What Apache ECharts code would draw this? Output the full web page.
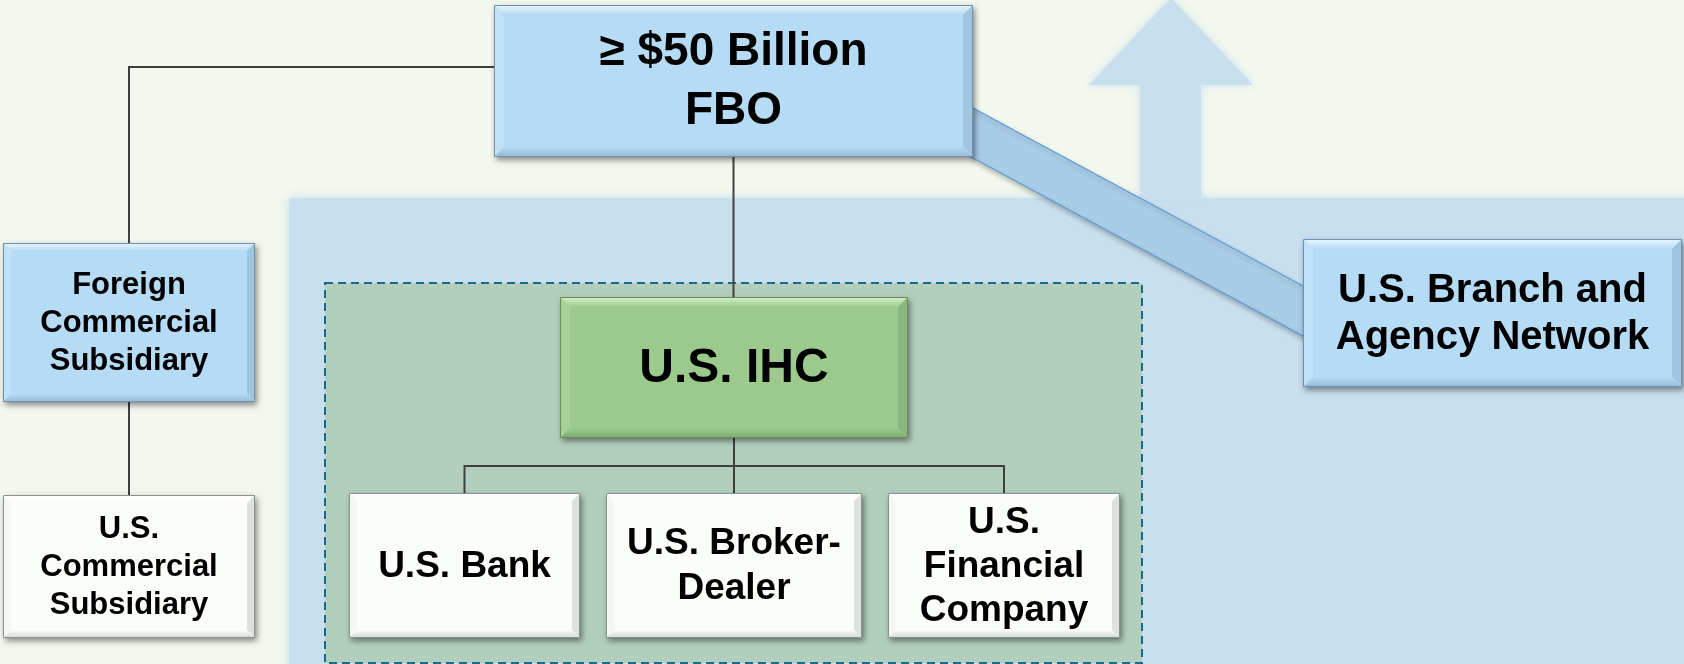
<!DOCTYPE html>
<html><head><meta charset="utf-8">
<script src="https://cdn.jsdelivr.net/npm/echarts@6/dist/echarts.min.js"></script>
<style>html,body{margin:0;padding:0;background:#f3f8ee;overflow:hidden}#c{width:1684px;height:664px}</style>
</head><body><div id="c"></div>
<script>
// ---- content ----
const nodeLabels = [
  '≥ $50 Billion\nFBO',
  'Foreign\nCommercial\nSubsidiary',
  'U.S.\nCommercial\nSubsidiary',
  'U.S. IHC',
  'U.S. Bank',
  'U.S. Broker-\nDealer',
  'U.S.\nFinancial\nCompany',
  'U.S. Branch and\nAgency Network'
];
const nodeKinds = ['blue', 'blue', 'white', 'green', 'white', 'white', 'white', 'blue'];
const links = [[0, 1], [1, 2], [0, 3], [3, 4], [3, 5], [3, 6]];
const bandLinks = [[0, 7]];

// ---- layout (canvas pixels) ----
const layout = {
  boxes: [
    [494, 5, 973, 157],
    [3, 243, 255, 402],
    [3, 495, 255, 638],
    [560, 297, 908, 438],
    [349, 493, 580, 638],
    [606, 493, 862, 638],
    [888, 493, 1120, 638],
    [1303, 239, 1682, 387]
  ],
  fonts: [[46, 59], [31, 38], [31, 38], [48, 56], [37, 45], [37, 45], [37, 44], [40, 47]],
  routes: ['side', 'straight', 'straight', 'bus', 'bus', 'bus'],
  sideY: 67, busY: 466,
  panel: [289, 198, 1700, 680],
  arrow: { shaft: [1140, 1201], headBase: 85, head: [1089, 1253], apex: -2, bottom: 200 },
  dashed: [325, 283, 1142, 663],
  band: 50
};
const palette = {
  blue:  { face: '#b6dbf4', top: '#e8f7fe', left: '#c0e1f6', right: '#9fc5e0', bottom: '#93bad6', border: '#6f93b2' },
  green: { face: '#9cca8c', top: '#d4f2c4', left: '#a6d297', right: '#8ab77b', bottom: '#80ab72', border: '#6a8c5e' },
  white: { face: '#fbfef8', top: '#ffffff', left: '#f5f8f2', right: '#dde2da', bottom: '#d3d8d0', border: '#86958f' }
};

const chart = echarts.init(document.getElementById('c'), null, { renderer: 'canvas' });

function C(api, x, y) { return api.coord([x, y]); }

function renderBackground(params, api) {
  const p = layout.panel, a = layout.arrow;
  const col = '#c8dfee';
  const p0 = C(api, p[0], p[1]), p1 = C(api, p[2], p[3]);
  const pts = [
    [a.shaft[0], a.bottom], [a.shaft[0], a.headBase], [a.head[0], a.headBase],
    [(a.head[0] + a.head[1]) / 2, a.apex], [a.head[1], a.headBase], [a.shaft[1], a.headBase], [a.shaft[1], a.bottom]
  ].map(q => C(api, q[0], q[1]));
  const d = layout.dashed;
  const d0 = C(api, d[0], d[1]), d1 = C(api, d[2], d[3]);
  return {
    type: 'group',
    children: [
      { type: 'rect', shape: { x: p0[0], y: p0[1], width: p1[0] - p0[0], height: p1[1] - p0[1] },
        style: { fill: col, shadowBlur: 10, shadowColor: col } },
      { type: 'polygon', shape: { points: pts }, style: { fill: col, shadowBlur: 8, shadowColor: col } },
      { type: 'rect', shape: { x: d0[0], y: d0[1], width: d1[0] - d0[0], height: d1[1] - d0[1] },
        style: { fill: '#b2cfbd', stroke: '#1c6a8a', lineWidth: 2, lineDash: [8, 5] } }
    ]
  };
}

function renderBand(params, api) {
  const [s, t] = bandLinks[params.dataIndex];
  const a = layout.boxes[s], b = layout.boxes[t];
  const w = layout.band;
  const yA = a[3] - w, yB = (b[1] + b[3]) / 2 - 26;
  const pts = [[a[2] - 2, yA], [b[0] + 2, yB], [b[0] + 2, yB + w], [a[2] - 2, a[3]]].map(q => C(api, q[0], q[1]));
  return { type: 'polygon', shape: { points: pts },
    style: { fill: '#a9cde6', stroke: '#5b9bd5', lineWidth: 1.2,
      shadowBlur: 5, shadowOffsetX: 1, shadowOffsetY: 3, shadowColor: 'rgba(0,0,0,0.25)' } };
}

function renderLink(params, api) {
  const i = params.dataIndex;
  const [s, t] = links[i];
  const a = layout.boxes[s], b = layout.boxes[t];
  const r = layout.routes[i];
  let pts;
  const acx = (a[0] + a[2]) / 2, bcx = (b[0] + b[2]) / 2;
  if (r === 'side') pts = [[a[0], layout.sideY], [bcx, layout.sideY], [bcx, b[1]]];
  else if (r === 'straight') pts = [[acx, a[3]], [acx, b[1]]];
  else pts = [[acx, a[3]], [acx, layout.busY], [bcx, layout.busY], [bcx, b[1]]];
  return { type: 'polyline', shape: { points: pts.map(q => C(api, q[0], q[1])) },
    style: { stroke: '#404040', lineWidth: 2, fill: null } };
}

function renderBox(params, api) {
  const i = params.dataIndex;
  const bx = layout.boxes[i];
  const pal = palette[nodeKinds[i]];
  const [fs, lh] = layout.fonts[i];
  const p0 = C(api, bx[0], bx[1]), p1 = C(api, bx[2], bx[3]);
  const x0 = p0[0], y0 = p0[1], x1 = p1[0], y1 = p1[1];
  const b = (x1 - x0) > 300 ? 10 : 8;
  const grad = (c1, c2) => new echarts.graphic.LinearGradient(0, 0, 0, 1, [{ offset: 0, color: c1 }, { offset: 1, color: c2 }]);
  return {
    type: 'group',
    children: [
      { type: 'rect', shape: { x: x0, y: y0, width: x1 - x0, height: y1 - y0 },
        style: { fill: pal.face, shadowBlur: 6, shadowOffsetX: 2, shadowOffsetY: 3, shadowColor: 'rgba(0,0,0,0.45)' } },
      { type: 'polygon', shape: { points: [[x0, y0], [x1, y0], [x1 - b, y0 + b], [x0 + b, y0 + b]] },
        style: { fill: grad(pal.top, pal.face) } },
      { type: 'polygon', shape: { points: [[x0, y0], [x0 + b, y0 + b], [x0 + b, y1 - b], [x0, y1]] },
        style: { fill: pal.left } },
      { type: 'polygon', shape: { points: [[x1, y0], [x1 - b, y0 + b], [x1 - b, y1 - b], [x1, y1]] },
        style: { fill: pal.right } },
      { type: 'polygon', shape: { points: [[x0, y1], [x0 + b, y1 - b], [x1 - b, y1 - b], [x1, y1]] },
        style: { fill: grad(pal.face, pal.bottom) } },
      { type: 'rect', shape: { x: x0 + 0.5, y: y0 + 0.5, width: x1 - x0 - 1, height: y1 - y0 - 1 },
        style: { fill: null, stroke: pal.border, lineWidth: 1 } },
      { type: 'text', x: (x0 + x1) / 2, y: (y0 + y1) / 2 + 1,
        style: { text: nodeLabels[i], fill: '#000', font: 'bold ' + fs + 'px "Liberation Sans", Arial, sans-serif',
          lineHeight: lh, align: 'center', verticalAlign: 'middle' } }
    ]
  };
}

const centers = layout.boxes.map(b => [(b[0] + b[2]) / 2, (b[1] + b[3]) / 2]);

chart.setOption({
  animation: false,
  backgroundColor: '#f3f8ee',
  grid: { left: 0, right: 0, top: 0, bottom: 0 },
  xAxis: { type: 'value', min: 0, max: 1684, show: false },
  yAxis: { type: 'value', min: 0, max: 664, inverse: true, show: false },
  series: [
    { type: 'custom', renderItem: renderBackground, data: [[0, 0]], clip: false, z: 1, silent: true },
    { type: 'custom', renderItem: renderBand, data: bandLinks.map(l => centers[l[0]]), clip: false, z: 2, silent: true },
    { type: 'custom', renderItem: renderLink, data: links.map(l => centers[l[0]]), clip: false, z: 3, silent: true },
    { type: 'custom', renderItem: renderBox, data: centers, clip: false, z: 4, silent: true }
  ]
});
</script></body></html>
